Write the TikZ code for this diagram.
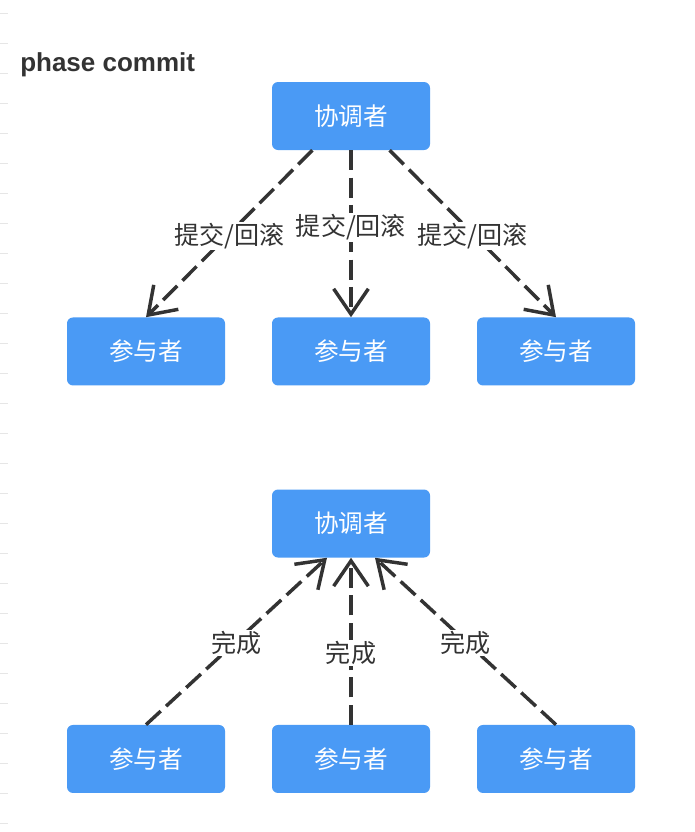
\documentclass[tikz,border=0pt]{standalone}
\usepackage{fontspec}
\setmainfont{Noto Sans CJK SC}
\newfontfamily\titlefont{Liberation Sans}
\usetikzlibrary{arrows.meta}
\definecolor{boxblue}{RGB}{74,154,245}
\definecolor{linegray}{RGB}{51,51,51}
\definecolor{tickgray}{RGB}{230,230,230}

\begin{document}
\begin{tikzpicture}[x=0.75pt, y=-0.75pt,
  level distance=176.6pt, sibling distance=153.75pt,
  edge from parent/.style={draw=none},
  box/.style={shape=rectangle, rounded corners=4.5pt,
    fill=boxblue, text=white,
    minimum width=118.5pt, minimum height=51pt,
    font=\fontsize{18.5}{22}\selectfont},
  every child node/.style={box},
  link/.style={draw=linegray, line width=2.6pt,
    dash pattern=on 15pt off 5.5pt,
    -{Straight Barb[length=19pt, width=26pt]}},
  lbl/.style={fill=white, text=linegray, inner sep=1pt, yshift=-1.5pt,
    font=\fontsize{18.8}{22}\selectfont}]
  \useasboundingbox[fill=white] (0,0) rectangle (694,832);
  \foreach \ty in {13,43,...,823}
    \draw[tickgray, line width=0.75pt] (0,\ty) -- (8,\ty);
  \node[anchor=base west, inner sep=0pt, text=linegray,
    font=\titlefont\bfseries\fontsize{19.5}{24}\selectfont]
    (title) at (20,71) {phase commit};
  \node[box] (c1) at (351,116) {协调者}
    child { node (p1) {参与者} }
    child { node (p2) {参与者} }
    child { node (p3) {参与者} };
  \draw[link] ([xshift=-29pt]c1.south) -- node[lbl] {提交/回滚} (p1.north);
  \draw[link] (c1.south) -- node[lbl, pos=.45] {提交/回滚} (p2.north);
  \draw[link] ([xshift=29pt]c1.south) -- node[lbl] {提交/回滚} (p3.north);
  \node[box] (c2) at (351,523.5) {协调者}
    child { node (q1) {参与者} }
    child { node (q2) {参与者} }
    child { node (q3) {参与者} };
  \draw[link] (q1.north) -- node[lbl] {完成} ([xshift=-18pt]c2.south);
  \draw[link] (q2.north) -- node[lbl, pos=.44] {完成} (c2.south);
  \draw[link] (q3.north) -- node[lbl] {完成} ([xshift=18pt]c2.south);
\end{tikzpicture}
\end{document}
